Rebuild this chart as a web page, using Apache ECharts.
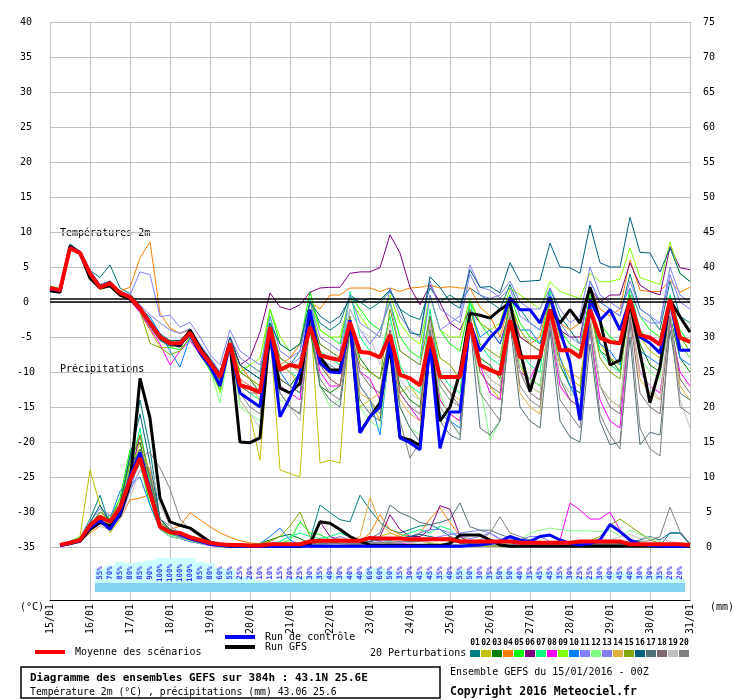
<!DOCTYPE html>
<html>
<head>
<meta charset="utf-8">
<script src="https://cdn.jsdelivr.net/npm/echarts/dist/echarts.min.js"></script>
<style>html,body{margin:0;background:#fff}#chart{width:740px;height:700px}</style>
</head>
<body>
<div id="chart"></div>
<script>
// dates on the x axis, one per day (4 steps of 6h)
const dates = ['15/01','16/01','17/01','18/01','19/01','20/01','21/01','22/01','23/01','24/01','25/01','26/01','27/01','28/01','29/01','30/01','31/01'];

// snow probability strip, from step 5 to step 63
const snowPct = [55,70,85,80,85,90,100,100,100,100,85,80,60,55,25,20,10,10,15,20,25,30,35,40,30,40,40,60,60,50,35,30,45,45,35,40,55,50,30,35,50,50,40,35,45,45,35,30,25,25,30,40,45,40,30,30,35,20,20];

// 2m temperature, steps 0..64 (6h)
const tempMean = [2.0,1.7,7.7,7.0,4.1,2.1,2.7,1.3,0.7,-0.9,-3.0,-5.0,-5.9,-5.9,-4.4,-6.9,-8.7,-10.7,-5.9,-11.9,-12.3,-12.9,-3.6,-9.7,-9.0,-9.3,-3.6,-7.6,-8.0,-8.3,-2.9,-7.1,-7.3,-7.9,-4.7,-10.4,-10.9,-11.9,-5.0,-10.7,-10.7,-10.7,-3.0,-9.0,-9.7,-10.3,-2.6,-7.9,-7.9,-7.9,-1.1,-6.9,-6.9,-7.9,-1.1,-5.1,-5.7,-5.9,0.3,-4.7,-5.1,-6.1,0.3,-5.1,-5.7];
const tempGFS = [1.6,1.4,8.0,7.0,3.4,2.0,2.3,1.0,0.5,-1.0,-3.0,-5.0,-5.9,-6.3,-4.0,-6.5,-8.5,-10.5,-6,-20,-20.1,-19.4,-4,-12.3,-13,-11.6,-1.6,-7.9,-9.7,-9.7,-3,-18.6,-16.4,-14.4,-6.4,-19.3,-19.7,-20.5,-5.5,-17,-15,-10,-1.6,-1.9,-2.3,-1.1,-0.1,-6.9,-12.8,-7.9,-1.1,-3,-1.1,-3,2.1,-2.6,-9,-8.3,-0.1,-7.3,-14.4,-9.3,0.3,-2.1,-4.3];
const tempControl = [1.9,1.6,7.8,7.1,4.2,2.2,2.7,1.3,0.7,-0.9,-3.0,-5.1,-6.0,-6.0,-4.6,-7.3,-9.2,-12.0,-6,-13,-14,-15,-4,-16.4,-13.6,-10,-1.1,-8.7,-10,-10.1,-2.6,-18.7,-16.4,-15,-5.4,-19.4,-20.1,-21.1,-5.9,-20.9,-15.7,-15.7,-3,-7,-5.1,-3.6,0.6,-1.1,-1.1,-3,0.7,-4,-8.7,-16.9,0.3,-2.6,-1.1,-4,0.3,-5,-5.9,-7.3,0.3,-6.9,-6.9];
const t01 = [2.2,1.8,8.3,7.2,4.5,3.5,5.3,2.0,1.2,-0.5,-2.5,-4.5,-5.5,-5.5,-4.0,-6.5,-8.0,-10.0,-5.5,-9,-10,-11,-3,-8,-9,-7,0,-3,-4,-3,1,0,-1,0,1.5,-1,-2,-2.5,2,0,1,0,2,1,0,-1,2.5,-1,-3,-4,2,-2,-4,-6,3,0,-1,-2,4,-1,-2,-4,3,-2,-3];
const t02 = [1.8,1.5,7.5,6.8,4.0,1.8,2.2,0.8,0.4,-1.5,-4,-6.5,-6.5,-6.0,-5,-7.5,-9.5,-12,-6,-14,-16,-22.6,-4,-24,-24.5,-25,-1,-23,-22.6,-23,-2,-15,-14,-17,-4,-13,-12,-14,-5,-14,-16,-17,-3,-10,-12,-14,-2,-9,-12,-13,-1,-8,-11,-12,0,-6,-8,-9,1,-5,-7,-8,0,-6,-8];
const t03 = [2.0,1.6,7.8,7.1,4.2,2.0,2.5,1.0,0.3,-1.2,-3.5,-5.5,-6.2,-6.0,-4.8,-7.2,-9.0,-11.0,-5.5,-10,-11,-13,-6,-11,-12,-10,-4,-12,-13,-12,-3,-8,-10,-11,-5,-12,-14,-15,-4,-12,-14,-15,-2,-8,-9,-11,-3,-10,-11,-12,-2,-9,-12,-13,-1,-7,-8,-10,0,-6,-9,-10,-2,-8,-10];
const t04 = [2.1,1.7,7.6,7.0,4.2,2.3,2.8,1.6,2.1,6.3,8.6,-1.6,-3.7,-4.5,-4.0,-6.5,-8.5,-10.5,-5,-9,-11,-12,-4,-9,-8,-6,0,-1,1,1,2,2,2,1.5,2,1.5,2,2.1,2.4,2,2.2,2,2,-0.7,-2,-5,0,-5,-6,-5,1,-3,-4,-3,2,-1,-2,-1,6,1.7,1.5,1.5,3.1,1.4,2.1];
const t05 = [2.3,1.9,8.0,7.3,4.4,2.4,2.9,1.4,0.6,-1.0,-3.2,-5.3,-6.5,-6.8,-5.2,-7.5,-9.8,-12.5,-6,-10,-9,-10,-1,-6,-7,-6,1.5,-4,-5,-6,1,-1,-3,-4,0,-5,-7,-8,1,-4,-6,-7,0,-3,-5,-4,1,-3,-5,-6,0.5,-4,-6,-7,1,-3,-5,-6,2,-2,-4,-5,1,-4,-6];
const t06 = [1.9,1.6,7.7,7.0,4.0,2.0,2.6,1.2,0.5,-1.0,-3.1,-5.2,-6.0,-6.0,-4.6,-7.0,-8.8,-10.8,-5,-9,-8,-4.3,1.3,-0.7,-1.1,-0.4,1.4,2.0,2.1,2.1,4.1,4.3,4.3,4.9,9.6,7,2.1,-0.4,2.4,-0.1,-3,-4,-1,-3,-4,-6,-1,-5,-6,-7,0,-4,-5,-5,2,0,1,1,5.6,2.4,1.5,1,7.9,4.9,4.6];
const t07 = [2.2,1.8,7.9,7.2,4.3,2.2,2.8,1.4,0.8,-0.8,-2.8,-4.8,-5.8,-5.8,-4.3,-6.8,-8.5,-10.5,-6,-12,-13,-14,-2,-9,-10,-11,0.5,-7,-8,-9,1.5,-5,-7,-8,-2,-9,-12,-13,-1,-10,-12,-13,0,-6,-8,-9,1,-7,-9,-10,1.5,-5,-7,-8,0,-7,-9,-10,2,-4,-6,-7,1,-5,-7];
const t08 = [1.8,1.5,7.5,6.8,3.9,1.9,2.4,1.0,0.2,-1.5,-3.8,-6.0,-9.0,-7.0,-5.5,-7.5,-9.5,-11.5,-6,-11,-12,-13,-5,-12,-13,-14,-2,-10,-12,-12,-4,-10,-11,-14,-5,-13,-15,-17,-3,-14,-16,-17,-2,-9,-13,-14,-2,-10,-11,-8,-3,-12,-14,-15,-4,-14,-17,-18,-2,-10,-12,-13,-3,-10,-12];
const t09 = [2.1,1.8,7.8,7.1,4.2,2.2,2.8,1.4,0.7,-0.9,-3.0,-5.0,-6.0,-6.0,-4.5,-7.0,-9.0,-13.0,-6,-10,-9,-8,-1,-5,-7,-6,0,-4,-5,-5,0.5,-2,-4,-5,1,-3,-5,-6,1,-4,-5,-5,0.5,-3,-4,-3,2,1,0,-1,2.9,1.5,1,0.5,4.1,2.9,2.9,3.3,7.7,3.5,3,2.5,8.6,4,3];
const t10 = [2.0,1.7,7.6,7.0,4.0,2.0,2.6,1.2,0.6,-1.1,-2.1,-4.5,-7.0,-9.3,-5.0,-7.3,-9.2,-11.5,-6,-13,-14,-15,-3,-10,-12,-13,-1,-8,-9,-10,-2,-12,-14,-19,-6,-19,-20,-21,-6,-16,-17,-18,-1,-5,-4,-6,-2,-4,-4,-6,-1,-8,-12,-15,0,-6,-7,-9,1,-7,-8,-9,0,-8,-9];
const t11 = [2.0,1.5,7.8,7.3,4.5,2.5,3.0,1.5,1.0,4.3,3.9,-2.1,-1.9,-3.6,-2.9,-5.0,-7.5,-9.0,-4,-7,-8,-9,-4,-8,-9,-8,-2,-6,-7,-8,-1,-4,-6,-4,0,-7,-8,-9,1,-4,-3,-2,5.3,2.1,1.7,0.6,2,-2,-3,-4,1,-3,-5,-6,3,0,-1,-2,3,-1,-2,-3,3.9,0,-1];
const t12 = [2.1,1.8,7.7,7.0,4.1,2.1,2.7,1.3,0.7,-0.9,-3.0,-5.0,-6.3,-6.2,-4.8,-7.5,-9.5,-14.4,-6,-15,-16,-17,-6,-14,-15,-16,-3,-12,-15,-14,-5,-15,-17,-18,-6,-15,-18,-19,-4,-13,-17,-19,-3,-12,-19.7,-17,-1,-9,-11,-12,-2,-11,-13,-14,-3,-12,-14,-15,0,-8,-10,-11,0,-6,-8];
const t13 = [1.9,1.6,7.7,7.1,4.3,2.3,2.8,1.6,1.0,-0.4,-1.8,-3.0,-4.0,-4.5,-3.8,-6.0,-8.0,-10.0,-5,-8,-9,-10,-2,-7,-8,-7,0,-5,-6,-7,1,-3,-4,-5,2,-2,-4,-5,3,-1,-2,-3,4,1,0.5,1,3,0,-1,-1,2,-1,-3,-2,5,1,0,-1,2,-2,-3,-3,5,1,0];
const t14 = [2.0,1.7,7.7,7.0,4.1,2.2,2.8,1.4,0.8,-0.8,-3.0,-5.1,-6.0,-6.0,-4.5,-7.0,-8.8,-10.8,-6,-11,-12,-14,-4,-9,-10,-12,-1,-8,-11,-12,-3,-13,-14,-13,-4,-14,-16,-17,-3,-11,-13,-14,-2,-9,-11,-12,-1,-13,-15,-16,-1,-9,-10,-11,-2,-12,-14,-15,-1,-11,-13,-14,-2,-12,-14];
const t15 = [2.2,1.8,7.8,7.1,4.3,2.3,2.5,1.5,0.5,-1.2,-5.9,-6.5,-7.5,-7.0,-5.0,-7.2,-9.0,-11.0,-5.5,-10,-11,-12,-3,-8,-9,-10,-1,-6,-7,-8,-2,-9,-10,-11,-1,-7,-8,-9,-2,-8,-9,-11,-1,-6,-7,-8,0,-4,-6,-7,0,-5,-7,-8,-1,-8,-10,-11,1,-4,-6,-7,0,-5,-7];
const t16 = [2.0,1.8,8.0,7.2,4.4,2.4,3.0,1.5,0.9,-0.7,-2.8,-4.8,-5.6,-5.5,-4.0,-6.5,-8.4,-10.4,-5,-9,-10,-11,-3,-6,-7,-6,0,-2,-3,-2,0.5,0,0.5,0.3,1.7,-1,-4.4,-4.7,3.6,2.1,0,-0.9,4.6,2.1,2.2,1.3,5.6,2.9,3,3.1,8.4,5,4.9,4.1,11,5.6,5,5,12.1,7.1,7,4.3,7.7,4.1,2.9];
const t17 = [1.9,1.6,7.6,6.9,4.0,2.0,2.5,1.1,0.5,-1.2,-3.4,-5.5,-6.3,-6.3,-4.8,-7.3,-9.1,-11.2,-6,-13,-14,-15,-6,-13,-15,-16,-3,-12,-14,-15,-4,-14,-16,-17,-5,-15,-18,-20,-4,-17,-19,-19.7,-3,-18,-19,-17,-3,-15,-17,-18,-4,-17,-19.3,-20,-6,-17,-20.4,-20,-5,-20.4,-18.6,-19,-4,-13,-14];
const t18 = [2.1,1.6,7.8,6.9,4.0,2.2,2.6,1.2,0.6,-1.0,-3.1,-5.2,-6.1,-5.8,-4.6,-7.1,-8.9,-10.9,-6,-12,-13,-13,-5,-11,-12,-13,-3,-9,-11,-12,-3,-10,-12,-13,-4,-13,-15,-16,-2,-11,-13,-15,-2,-10,-12,-13,-2,-10,-13,-14,-2,-11,-14,-15,-3,-12,-15,-16,-2,-13,-15,-16,-2,-11,-13];
const t19 = [2.0,1.7,7.7,7.0,4.0,2.1,2.7,1.3,0.7,-0.8,-2.9,-4.9,-5.8,-5.9,-4.4,-6.9,-8.6,-10.6,-5.5,-14,-16,-18,-4,-13,-15,-17,-2,-8,-9,-10,-1,-4,-5,-9,-3,-11,-13,-14,-3,-12,-14,-15,-2,-9,-11,-12,-1,-10,-12,-13,-2,-11,-13,-14,-2,-12,-14,-15,-1,-10,-12,-14,-1,-14,-18];
const t20 = [1.9,1.6,7.6,7.0,4.1,2.1,2.6,1.2,0.6,-1.1,-3.3,-5.3,-6.1,-6.1,-4.6,-7.1,-8.9,-10.9,-6,-13,-15,-16,-5,-13,-15,-16,-3,-11,-13,-14,-3,-12,-14,-16,-5,-17,-22.3,-20,-4,-15,-17,-19,-3,-13,-15,-17,-2,-12,-14,-15,-3,-14,-16,-18,-4,-16,-19,-21,-3,-18,-21,-22,-2,-15,-16];

// precipitation (mm), steps 1..64
const rainMean = [0.3,0.6,1.0,3.1,4.3,3.6,5.6,9.6,12.7,7.7,2.9,2.1,2.0,1.4,1.0,0.6,0.4,0.3,0.3,0.2,0.2,0.4,0.4,0.4,0.4,0.8,0.9,0.9,0.9,0.9,0.9,1.3,1.2,1.2,1.2,1.1,1.1,1.1,1.1,1.1,0.8,0.8,0.8,0.8,0.8,0.8,0.6,0.6,0.6,0.6,0.6,0.6,0.8,0.8,0.8,0.8,0.8,0.4,0.4,0.4,0.4,0.4,0.4,0.3];
const rainGFS = [0.2,0.5,0.8,2.5,3.5,3.0,4.5,9.0,24.1,18.4,7.0,3.6,3.1,2.7,1.7,0.7,0.3,0.1,0.1,0.1,0.1,0.1,0.1,0.1,0.1,0.4,3.6,3.4,2.5,1.5,0.8,0.3,0.2,0.2,0.2,0.2,0.2,0.2,0.2,0.5,1.7,1.7,1.7,1,0.3,0.1,0.1,0.1,0.1,0.1,0.1,0.1,0.1,0.1,0.1,0.1,0.1,0.1,0.1,0.1,0.1,0.1,0.1,0.1];
const rainControl = [0.2,0.5,0.9,2.8,3.8,2.5,4.8,10,13.5,8,3,2.2,1.8,1.2,0.8,0.4,0.2,0.1,0.1,0.1,0.1,0.1,0.1,0.1,0.1,0.1,0.1,0.1,0.1,0.1,0.1,0.1,0.1,0.1,0.1,0.1,0.1,0.1,0.1,0.1,0.1,0.2,0.3,0.5,0.8,1.5,1,0.8,1.5,1.7,1,0.5,0.3,0.5,1,3.2,2.2,1,0.4,0.2,0.1,0.1,0.1,0.1];
const r01 = [0.2,0.6,1.2,4,7.4,3,6,12,21,14,4,2.5,2,1.5,1,0.5,0.3,0.2,0.1,0.1,0.1,0.2,0.3,0.5,0.5,1,6,4.9,3.9,3.6,7.4,5.3,3.5,2.5,2,2.5,3,3.2,2.5,1.5,0.5,0.3,0.2,0.2,0.2,0.2,0.2,0.2,0.2,0.2,0.2,0.2,0.2,0.2,0.2,0.2,0.2,0.2,0.2,0.2,0.2,2,2,0.3];
const r02 = [0.3,0.8,1.5,11,6,2,4,10,15,9,3,2,1.5,1,0.6,0.3,0.2,0.2,0.1,0.1,0.1,0.1,0.1,0.2,0.2,0.2,0.3,0.2,0.2,0.3,0.5,0.8,1.5,2,1.5,0.6,0.3,0.2,0.2,0.1,0.1,0.1,0.1,0.1,0.1,0.1,0.1,0.2,0.2,0.2,0.1,0.1,0.1,0.1,0.1,0.1,0.1,0.1,0.1,0.2,0.2,0.1,0.1,0.1];
const r03 = [0.2,0.5,1,3,4,4.5,6,13,15,8,3.5,2.5,1.8,1.2,0.7,0.4,0.2,0.2,0.2,0.3,0.5,1,1.5,1.8,1.2,0.5,0.3,0.2,0.2,0.2,0.2,0.3,0.3,0.2,0.2,0.2,0.3,0.5,0.4,0.3,0.2,0.2,0.2,0.2,0.2,0.2,0.2,0.1,0.1,0.1,0.1,0.2,0.2,0.2,0.2,0.3,0.3,0.2,0.2,0.2,0.2,0.1,0.1,0.1];
const r04 = [0.1,0.4,0.8,2,3,2.5,4,6.7,7,7.5,4,2.5,3,4.9,3.9,2.9,2.0,1.4,0.9,0.6,0.4,0.3,0.3,0.4,0.5,0.5,0.4,0.3,0.3,0.4,0.8,2,4.6,2.5,1.8,1.5,2,4,5.6,3.5,1.5,0.8,0.4,0.3,0.2,0.2,0.2,0.2,0.2,0.2,0.2,0.2,0.2,0.2,0.2,0.2,0.2,0.2,0.2,0.2,0.2,0.2,0.1,0.1];
const r05 = [0.3,0.8,1.4,2.5,3.5,4,7,13.9,12,6,2.5,1.8,1.4,1,0.6,0.3,0.2,0.2,0.1,0.1,0.1,0.2,0.5,1,3.6,2,1.8,1,0.5,0.3,0.3,0.2,0.2,0.2,0.3,0.3,0.2,0.2,0.2,0.2,0.2,0.2,0.2,0.2,0.2,0.1,0.1,0.1,0.1,0.2,0.2,0.2,0.2,0.1,0.1,0.1,0.1,0.1,0.1,0.1,0.1,0.1,0.1,0.1];
const r06 = [0.2,0.5,1,2.5,4,3.5,5,10,16,10,3,2,1.6,1.1,0.7,0.3,0.2,0.2,0.1,0.1,0.1,0.1,0.1,0.2,0.3,0.5,3.6,1.5,1,0.6,0.5,0.8,1.5,4.6,2.5,1.5,1.5,2.5,5.9,5.4,1.5,0.5,0.3,0.2,0.2,0.2,0.2,0.2,0.2,0.1,0.1,0.1,0.1,0.2,0.2,0.2,0.2,0.1,0.1,0.1,0.1,0.1,0.1,0.1];
const r07 = [0.2,0.6,1.1,3,5,4,5.5,11,17,9,3,2,1.5,1,0.5,0.3,0.1,0.2,0.2,0.1,0.2,0.4,0.8,1.5,2,1.5,1.2,1.5,2,1.5,0.8,0.5,0.6,0.8,1.5,2,2.5,2,3,2.5,1,0.5,0.3,0.3,0.2,0.2,0.2,0.3,0.3,0.2,0.2,0.2,0.2,0.3,0.3,0.2,0.2,0.2,0.2,0.2,0.2,0.1,0.1,0.1];
const r08 = [0.2,0.4,0.9,2.5,3.5,3,4.5,9,13,11,2.5,1.5,1.2,0.8,0.5,0.2,0.1,0.1,0.1,0.1,0.1,0.1,0.2,0.2,0.2,0.2,0.3,0.3,0.3,0.3,0.3,0.4,0.5,0.6,0.5,0.4,0.3,0.3,0.3,0.2,0.2,0.2,0.2,0.2,0.2,0.2,0.3,0.3,0.4,0.5,1,6.3,5.3,4,4,5,2.4,1,0.5,0.3,0.2,0.2,0.1,0.1];
const r09 = [0.3,0.7,1.3,3.5,4.5,3.5,6,12,14,10,3,2,1.5,1,0.6,0.3,0.2,0.2,0.1,0.1,0.1,0.2,0.3,0.4,0.5,0.4,0.3,0.3,0.2,0.2,0.2,0.3,0.4,0.5,0.4,0.3,0.2,0.2,0.2,0.2,0.2,0.3,0.4,0.3,0.2,0.2,0.2,0.2,0.2,0.2,0.2,0.2,0.2,0.2,0.2,0.2,0.2,0.2,0.2,0.2,0.2,0.1,0.1,0.1];
const r10 = [0.2,0.5,1,3,5,4,8,9,10,6,2.5,1.5,1.2,0.8,0.5,0.3,0.1,0.2,0.1,0.1,0.5,1.5,2.7,1,0.3,0.2,0.2,0.2,0.2,0.1,0.1,0.1,0.1,0.1,0.1,0.1,0.1,0.1,0.1,0.1,0.2,0.3,0.5,0.8,0.6,0.4,0.3,0.2,0.2,0.2,0.2,0.2,0.2,0.2,0.2,0.1,0.1,0.1,0.1,0.1,0.1,0.1,0.1,0.1];
const r11 = [0.2,0.5,1,2.5,3.5,3,4,8,11,9,3,2,1.4,1,0.6,0.3,0.2,0.2,0.1,0.1,0.1,0.1,0.2,0.2,0.3,0.5,0.7,1,1.5,1,0.6,0.4,0.3,0.3,0.5,0.8,1,1.2,1.5,1.8,2,2.2,2.4,2,1.2,0.6,0.4,0.3,0.3,0.2,0.2,0.2,0.2,0.2,0.2,0.2,0.2,0.2,0.2,0.2,0.2,0.1,0.1,0.1];
const r12 = [0.3,0.8,1.5,3,4.5,3.5,5,11,12,7,2.5,1.5,1.2,0.9,0.5,0.3,0.1,0.1,0.1,0.1,0.1,0.1,0.1,0.2,0.2,0.2,0.2,0.2,0.2,0.2,0.2,0.2,0.2,0.2,0.2,0.3,0.3,0.3,0.3,0.3,0.3,0.3,0.3,0.3,0.4,0.6,1,2,2.4,2.7,2.5,2.3,2.3,2.3,2.2,2.4,1.5,2.4,1.8,1.3,0.8,0.4,0.2,0.1];
const r13 = [0.2,0.6,1.1,3.5,5.5,4.5,6,8,13,8,3,2,1.5,1,0.6,0.3,0.2,0.1,0.1,0.1,0.1,0.1,0.1,0.2,0.2,0.2,0.2,0.3,0.3,0.3,0.4,0.5,0.8,1,1.2,1.5,2,2.5,2.5,2,1.5,1.2,1.5,2,1,1,1,1.5,1.5,0.8,0.5,0.3,0.2,0.2,0.2,0.2,0.2,0.2,0.2,0.2,0.2,0.1,0.1,0.1];
const r14 = [0.2,0.5,0.9,3,4,3,5,9,14,11,4,2.5,1.8,1.2,0.7,0.4,0.2,0.2,0.2,0.1,0.1,0.1,0.2,0.3,0.4,0.5,0.8,1,1.2,0.8,1.5,7.1,3.5,2,1.5,1,0.8,0.6,0.5,0.4,0.3,0.3,0.3,0.2,0.2,0.2,0.2,0.2,0.2,0.2,0.2,0.2,0.2,0.2,0.2,0.2,0.2,0.2,0.2,0.2,0.2,0.1,0.1,0.1];
const r15 = [0.3,0.6,1.2,3,5,4,6.5,12,16,10,3.5,2.5,1.8,1.2,0.7,0.4,0.2,0.2,0.2,0.3,0.5,0.8,1.5,3,5,1.5,0.5,0.4,0.3,0.3,0.3,0.3,0.3,0.3,0.3,0.3,0.3,0.3,0.3,0.3,0.3,0.2,0.2,0.2,0.2,0.2,0.2,0.3,0.3,0.3,0.3,0.4,0.6,0.9,1.5,3.1,4,3,2,1,0.5,0.3,0.2,0.1];
const r16 = [0.2,0.6,1.2,3.5,6,3.5,6,13,19,12,4,2.5,2,1.4,0.8,0.4,0.2,0.2,0.1,0.1,0.1,0.2,0.2,0.3,0.3,0.3,0.4,0.5,0.5,0.5,0.6,0.8,1,1.2,1.3,1.5,1.8,1.5,1.2,0.8,0.6,0.5,0.4,0.3,0.3,0.2,0.2,0.2,0.2,0.2,0.2,0.2,0.2,0.3,0.3,0.4,0.5,0.7,1,1.5,1,2,2,0.5];
const r17 = [0.2,0.5,1,3,4.5,3.5,5.5,11,14,10,4,3,2,1.4,0.8,0.4,0.2,0.2,0.2,0.1,0.1,0.2,0.2,0.3,0.4,0.5,0.6,0.6,0.7,0.8,1,1.2,2,6,4.9,4.3,3.5,3.2,3.5,4,6.3,2.9,2.4,2.4,1.8,1.3,0.8,0.5,0.4,0.3,0.3,0.3,0.3,0.3,0.3,0.3,0.3,0.3,0.3,0.3,0.3,0.2,0.2,0.1];
const r18 = [0.2,0.5,1,2.5,4,3,5,9,12,9,3,2,1.5,1,0.6,0.3,0.2,0.2,0.1,0.1,0.1,0.1,0.1,0.2,0.2,0.2,0.2,0.2,0.3,0.3,0.3,0.3,0.4,0.5,0.6,0.7,0.8,0.9,1,1.5,1,0.8,0.6,0.5,0.4,0.3,0.3,0.3,0.3,0.3,0.3,0.3,0.3,0.3,0.3,0.3,0.3,0.3,0.3,0.3,0.3,0.2,0.2,0.1];
const r19 = [0.2,0.5,1,2.5,3,2.5,4,7,11,12,6,3,2,1.4,0.8,0.4,0.2,0.2,0.1,0.1,0.1,0.2,0.2,0.2,0.2,0.3,0.3,0.3,0.4,0.5,0.5,0.5,0.6,0.7,0.7,0.6,0.5,0.4,0.4,0.3,0.3,0.3,0.3,0.3,0.3,0.3,0.3,0.3,0.3,0.3,0.3,0.4,0.5,0.6,0.8,1,1.5,1.8,1.2,1.4,1.3,0.8,0.5,0.2];
const r20 = [0.2,0.5,1,3,4,3.5,5,10,13,13.5,11.3,8.3,4,2.5,1.5,0.8,0.4,0.3,0.2,0.2,0.1,0.1,0.2,0.2,0.3,0.3,0.4,0.5,0.5,0.5,0.5,0.6,0.6,0.7,0.8,0.8,0.9,1,1,0.9,0.8,0.8,1,2,4.3,2,1.5,1,0.8,0.6,0.5,0.5,0.5,0.5,0.5,0.5,0.6,0.7,0.8,0.9,1.5,5.7,2.2,0.5];

const tempPerturbations = [t01,t02,t03,t04,t05,t06,t07,t08,t09,t10,t11,t12,t13,t14,t15,t16,t17,t18,t19,t20];
const rainPerturbations = [r01,r02,r03,r04,r05,r06,r07,r08,r09,r10,r11,r12,r13,r14,r15,r16,r17,r18,r19,r20];
const perturbationColors = ['#008080','#c0c000','#008000','#ff8000','#00ff00','#800080','#00ff80','#ff00ff','#80ff00','#0080ff','#8080ff','#80ff80','#8080f0','#e0b040','#80a800','#006080','#507078','#806870','#c0c0c0','#808080'];

const MONO = 'DejaVu Sans Mono';
const GRID_COLOR = '#c0c0c0';

const tempPairs = (arr) => arr.map((v, i) => [i, v]);
const rainPairs = (arr) => arr.map((v, i) => [i + 1, v]);

function lineSeries(name, data, color, width, yAxisIndex, z) {
  return {
    name: name,
    type: 'line',
    xAxisIndex: 0,
    yAxisIndex: yAxisIndex,
    data: data,
    symbol: 'none',
    showSymbol: false,
    silent: true,
    z: z,
    lineStyle: { color: color, width: width },
    itemStyle: { color: color }
  };
}

const series = [];
tempPerturbations.forEach((arr, k) => {
  series.push(lineSeries('T' + (k + 1), tempPairs(arr), perturbationColors[k], 1, 0, 2));
});
rainPerturbations.forEach((arr, k) => {
  series.push(lineSeries('P' + (k + 1), rainPairs(arr), perturbationColors[k], 1, 1, 2));
});
// 0°C double line
series[0].markLine = {
  silent: true,
  symbol: 'none',
  label: { show: false },
  lineStyle: { color: '#000', width: 1.5, type: 'solid' },
  data: [{ yAxis: 0 }, { yAxis: 0.45 }]
};
series.push(lineSeries('GFS T', tempPairs(tempGFS), '#000000', 3, 0, 3));
series.push(lineSeries('GFS P', rainPairs(rainGFS), '#000000', 3, 1, 3));
series.push(lineSeries('Ctrl T', tempPairs(tempControl), '#0000ff', 3, 0, 4));
series.push(lineSeries('Ctrl P', rainPairs(rainControl), '#0000ff', 3, 1, 4));
series.push(lineSeries('Moy T', tempPairs(tempMean), '#ff0000', 4, 0, 5));
series.push(lineSeries('Moy P', rainPairs(rainMean), '#ff0000', 4, 1, 5));

// snow strip under the plot
series.push({
  type: 'bar',
  xAxisIndex: 1,
  yAxisIndex: 2,
  data: snowPct.map((p, i) => [i + 5, p]),
  barWidth: 10,
  silent: true,
  z: 1,
  itemStyle: { color: '#ccffff' },
  markArea: {
    silent: true,
    itemStyle: { color: '#84d2f2' },
    data: [[{ xAxis: 4.5, yAxis: -36 }, { xAxis: 63.5, yAxis: 0 }]]
  }
});
series.push({
  type: 'scatter',
  xAxisIndex: 1,
  yAxisIndex: 2,
  data: snowPct.map((p, i) => [i + 5, 40]),
  symbolSize: 1,
  silent: true,
  z: 3,
  itemStyle: { color: 'rgba(0,0,0,0)' },
  label: {
    show: true,
    position: 'inside',
    rotate: 90,
    color: '#0000ff',
    fontFamily: MONO,
    fontWeight: 'bold',
    fontSize: 7.5,
    formatter: (p) => snowPct[p.dataIndex] + '%'
  }
});

const graphic = [
  { type: 'text', x: 60, y: 233, style: { text: 'Températures 2m', font: '10px "DejaVu Sans Mono"', fill: '#000', verticalAlign: 'middle' } },
  { type: 'text', x: 60, y: 369, style: { text: 'Précipitations', font: '10px "DejaVu Sans Mono"', fill: '#000', verticalAlign: 'middle' } },
  { type: 'text', x: 20, y: 607, style: { text: '(°C)', font: '10px "DejaVu Sans Mono"', fill: '#000', verticalAlign: 'middle' } },
  { type: 'text', x: 710, y: 607, style: { text: '(mm)', font: '10px "DejaVu Sans Mono"', fill: '#000', verticalAlign: 'middle' } },
  { type: 'line', shape: { x1: 35, y1: 652, x2: 65, y2: 652 }, style: { stroke: '#ff0000', lineWidth: 4 } },
  { type: 'text', x: 75, y: 652, style: { text: 'Moyenne des scénarios', font: '10px "DejaVu Sans Mono"', fill: '#000', verticalAlign: 'middle' } },
  { type: 'line', shape: { x1: 225, y1: 637, x2: 255, y2: 637 }, style: { stroke: '#0000ff', lineWidth: 4 } },
  { type: 'text', x: 265, y: 637, style: { text: 'Run de contrôle', font: '10px "DejaVu Sans Mono"', fill: '#000', verticalAlign: 'middle' } },
  { type: 'line', shape: { x1: 225, y1: 647, x2: 255, y2: 647 }, style: { stroke: '#000000', lineWidth: 4 } },
  { type: 'text', x: 265, y: 647, style: { text: 'Run GFS', font: '10px "DejaVu Sans Mono"', fill: '#000', verticalAlign: 'middle' } },
  { type: 'text', x: 370, y: 653, style: { text: '20 Perturbations', font: '10px "DejaVu Sans Mono"', fill: '#000', verticalAlign: 'middle' } },
  { type: 'rect', shape: { x: 21, y: 667, width: 419, height: 31 }, style: { fill: 'none', stroke: '#000', lineWidth: 1.5 } },
  { type: 'text', x: 30, y: 678, style: { text: 'Diagramme des ensembles GEFS sur 384h : 43.1N 25.6E', font: 'bold 11px "DejaVu Sans Mono"', fill: '#000', verticalAlign: 'middle' } },
  { type: 'text', x: 30, y: 692, style: { text: 'Température 2m (°C) , précipitations (mm) 43.06 25.6', font: '9.8px "DejaVu Sans Mono"', fill: '#000', verticalAlign: 'middle' } },
  { type: 'text', x: 450, y: 672, style: { text: 'Ensemble GEFS du 15/01/2016 - 00Z', font: '10px "DejaVu Sans Mono"', fill: '#000', verticalAlign: 'middle' } },
  { type: 'text', x: 450, y: 692, style: { text: 'Copyright 2016 Meteociel.fr', font: 'bold 11.5px "DejaVu Sans Mono"', fill: '#000', verticalAlign: 'middle' } }
];
perturbationColors.forEach((c, k) => {
  graphic.push({ type: 'rect', shape: { x: 470 + 11 * k, y: 650, width: 10, height: 7 }, style: { fill: c } });
  graphic.push({ type: 'text', x: 475 + 11 * k, y: 643, style: { text: String(k + 1).padStart(2, '0'), font: 'bold 8px "DejaVu Sans Mono"', fill: '#000', align: 'center', verticalAlign: 'middle' } });
});

const chart = echarts.init(document.getElementById('chart'));
chart.setOption({
  animation: false,
  backgroundColor: '#ffffff',
  grid: [
    { left: 50, right: 50, top: 22, height: 525 },
    { left: 50, right: 50, top: 547, height: 53 }
  ],
  xAxis: [
    {
      gridIndex: 0, type: 'value', min: 0, max: 64, interval: 4,
      axisLine: { show: false }, axisTick: { show: false }, axisLabel: { show: false },
      splitLine: { show: true, lineStyle: { color: GRID_COLOR, width: 1 } }
    },
    {
      gridIndex: 1, type: 'value', min: 0, max: 64, interval: 4,
      axisLine: { show: true, onZero: false, lineStyle: { color: '#000', width: 1 } },
      axisTick: { show: false },
      axisLabel: { rotate: 90, margin: 4, fontFamily: MONO, fontSize: 10, color: '#000', formatter: (v) => dates[v / 4] },
      splitLine: { show: true, lineStyle: { color: GRID_COLOR, width: 1 } }
    }
  ],
  yAxis: [
    {
      gridIndex: 0, type: 'value', position: 'left', min: -35, max: 40, interval: 5,
      axisLine: { show: false }, axisTick: { show: false },
      axisLabel: { fontFamily: MONO, fontSize: 10, color: '#000', align: 'center', margin: 24 },
      splitLine: { show: true, lineStyle: { color: GRID_COLOR, width: 1 } }
    },
    {
      gridIndex: 0, type: 'value', position: 'right', min: 0, max: 75, interval: 5,
      axisLine: { show: false }, axisTick: { show: false },
      axisLabel: { fontFamily: MONO, fontSize: 10, color: '#000', align: 'center', margin: 19 },
      splitLine: { show: false }
    },
    { gridIndex: 1, type: 'value', min: -68, max: 144, show: false }
  ],
  graphic: graphic,
  series: series
});
</script>
</body>
</html>
